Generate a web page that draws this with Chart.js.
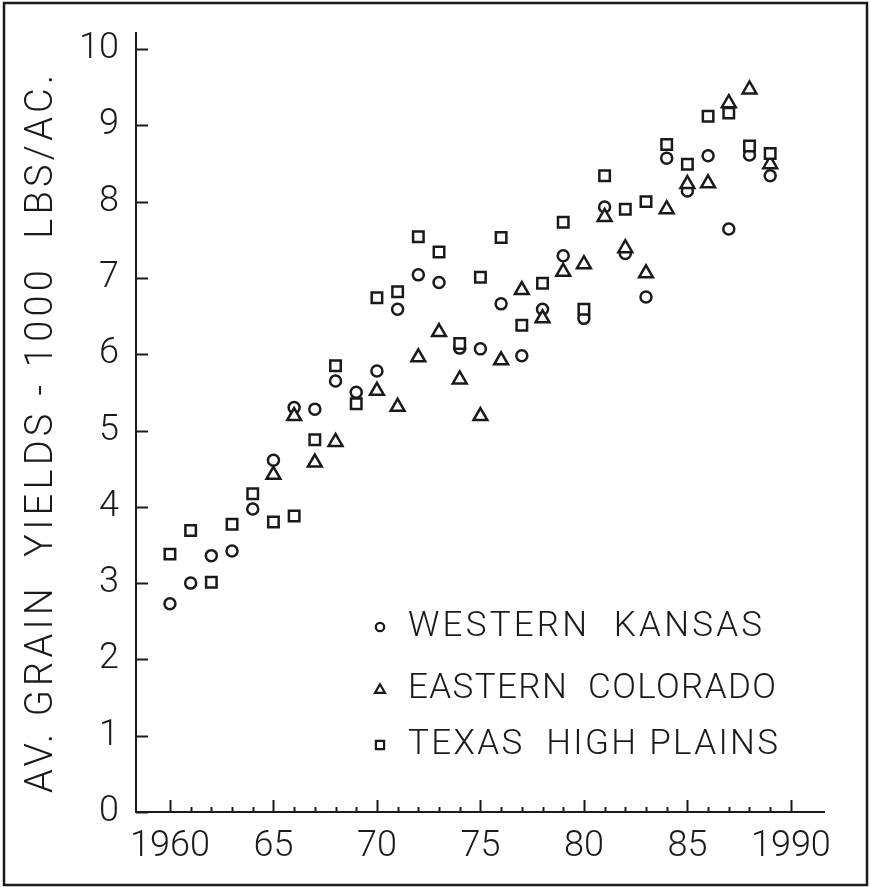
<!DOCTYPE html>
<html>
<head>
<meta charset="utf-8">
<script src="https://cdn.jsdelivr.net/npm/chart.js@4.4.1/dist/chart.umd.min.js"></script>
<style>
  html, body { margin: 0; padding: 0; background: #fff; }
  #c { display: block; }
</style>
</head>
<body>
<canvas id="c" width="871" height="887"></canvas>
<script>
// ---- data ----
const years = [1960,1961,1962,1963,1964,1965,1966,1967,1968,1969,1970,1971,1972,1973,1974,
               1975,1976,1977,1978,1979,1980,1981,1982,1983,1984,1985,1986,1987,1988,1989];
const westernKansas = [2.73,3.00,3.36,3.42,3.97,4.61,5.30,5.28,5.65,5.50,5.78,6.59,7.04,6.94,6.08,
                       6.07,6.66,5.98,6.59,7.29,6.47,7.93,7.32,6.75,8.57,8.14,8.60,7.64,8.61,8.34];
const easternColorado = [null,null,null,null,null,4.42,5.19,4.58,4.85,null,5.52,5.31,5.96,6.29,5.67,
                         5.19,5.92,6.84,6.47,7.08,7.18,7.80,7.39,7.06,7.90,8.23,8.24,9.29,9.47,8.49];
const texasHighPlains = [3.38,3.69,3.01,3.77,4.17,3.80,3.88,4.88,5.85,5.35,6.74,6.82,7.54,7.34,6.14,
                         7.01,7.53,6.38,6.93,7.73,6.59,8.34,7.90,8.00,8.75,8.49,9.12,9.16,8.73,8.63];
const seriesNames = ['WESTERN KANSAS','EASTERN COLORADO','TEXAS HIGH PLAINS'];
const xTickValues = [1960,1965,1970,1975,1980,1985,1990];
const xTickLabels = ['1960','65','70','75','80','85','1990'];
const yTickValues = [0,1,2,3,4,5,6,7,8,9,10];
const yTitle = 'AV. GRAIN  YIELDS - 1000  LBS/AC.';

const FONT = 'Roboto, "Liberation Sans", sans-serif';
const INK = '#1a1a1a';

function pts(vals){ return years.map((yr,i)=>({x:yr, y:vals[i]})).filter(p=>p.y!==null); }

const styles = [
  {pointStyle:'circle', radius:5.5},
  {pointStyle:'triangle', radius:8},
  {pointStyle:'rect', radius:7.4}
];

const decor = {
  id:'decor',
  afterDraw(chart){
    const ctx = chart.ctx;
    const xs = chart.scales.x, ys = chart.scales.y, a = chart.chartArea;
    ctx.save();
    ctx.strokeStyle = INK; ctx.lineWidth = 2;
    // x ticks (inward)
    for (let yr = 1960; yr <= 1990; yr++) {
      const px = Math.round(xs.getPixelForValue(yr)) + 0.5;
      const len = (yr % 5 === 0) ? 12 : 5;
      ctx.beginPath(); ctx.moveTo(px, a.bottom); ctx.lineTo(px, a.bottom - len); ctx.stroke();
    }
    // y ticks (inward)
    yTickValues.forEach(v => {
      const py = Math.round(ys.getPixelForValue(v)) + 0.5;
      ctx.beginPath(); ctx.moveTo(a.left, py); ctx.lineTo(a.left + 12, py); ctx.stroke();
    });
    // frame
    ctx.lineWidth = 2.5;
    ctx.strokeRect(4, 3, 863, 882);

    // y title
    ctx.fillStyle = INK;
    ctx.font = '300 38px ' + FONT;
    ctx.textBaseline = 'middle';
    ctx.textAlign = 'left';
    ctx.letterSpacing = '0px';
    const target = 718;
    const w0 = ctx.measureText(yTitle).width;
    const sp = (target - w0) / (yTitle.length - 1);
    ctx.letterSpacing = sp + 'px';
    ctx.translate(42, 434 + target/2);
    ctx.rotate(-Math.PI/2);
    ctx.fillText(yTitle, 0, 0);
    ctx.restore();

    // legend
    ctx.save();
    ctx.fillStyle = INK;
    ctx.font = '300 35px ' + FONT;
    ctx.textBaseline = 'middle';
    const rows = [627, 689, 745];
    const ends = [762, 776, 778];
    const legendStyles = [
      {pointStyle:'circle', radius:4.2, borderWidth:2.2, rotation:0},
      {pointStyle:'triangle', radius:5.8, borderWidth:2.2, rotation:0},
      {pointStyle:'rect', radius:5.8, borderWidth:2.2, rotation:0}
    ];
    seriesNames.forEach((name, i) => {
      ctx.save();
      ctx.strokeStyle = INK; ctx.fillStyle = '#fff'; ctx.lineWidth = 2.2;
      Chart.helpers.drawPoint(ctx, legendStyles[i], 380, rows[i] + (i===1 ? 1 : 0));
      ctx.restore();
      const txt = name.replace(' ', '  ');
      ctx.letterSpacing = '0px';
      const w = ctx.measureText(txt).width;
      const s = (ends[i] - 408 - w) / (txt.length - 1);
      ctx.letterSpacing = s + 'px';
      ctx.fillStyle = INK;
      ctx.fillText(txt, 408, rows[i]);
    });
    ctx.restore();
  }
};

const common = {showLine:false, borderColor:INK, backgroundColor:'#fff', borderWidth:2.5};

new Chart(document.getElementById('c'), {
  type:'scatter',
  data:{
    datasets:[
      Object.assign({label:seriesNames[2], data:pts(texasHighPlains), pointStyle:styles[2].pointStyle, pointRadius:styles[2].radius}, common),
      Object.assign({label:seriesNames[1], data:pts(easternColorado), pointStyle:styles[1].pointStyle, pointRadius:styles[1].radius}, common),
      Object.assign({label:seriesNames[0], data:pts(westernKansas), pointStyle:styles[0].pointStyle, pointRadius:styles[0].radius}, common)
    ]
  },
  options:{
    responsive:false,
    animation:false,
    devicePixelRatio:1,
    layout:{padding:{left:0, right:47, top:33, bottom:0}},
    plugins:{legend:{display:false}, tooltip:{enabled:false}},
    elements:{point:{hoverRadius:0}},
    scales:{
      x:{
        type:'linear', min:1958.36, max:1991.6,
        grid:{display:false},
        border:{display:true, color:INK, width:2},
        afterBuildTicks(s){ s.ticks = xTickValues.map(v=>({value:v})); },
        afterFit(s){ s.height = 75; },
        ticks:{
          color:INK, padding:5, maxRotation:0, autoSkip:false,
          font:{family:FONT, size:36, weight:'300'},
          callback(v){ const i = xTickValues.indexOf(v); return i>=0 ? xTickLabels[i] : ''; }
        }
      },
      y:{
        type:'linear', min:0, max:10.21,
        grid:{display:false},
        border:{display:true, color:INK, width:2},
        afterBuildTicks(s){ s.ticks = yTickValues.map(v=>({value:v})); },
        afterFit(s){ s.width = 136; },
        ticks:{
          color:INK, padding:9, autoSkip:false,
          font:{family:FONT, size:36, weight:'300'},
          callback(v){ return String(v); }
        }
      }
    }
  },
  plugins:[decor]
});
</script>
</body>
</html>
